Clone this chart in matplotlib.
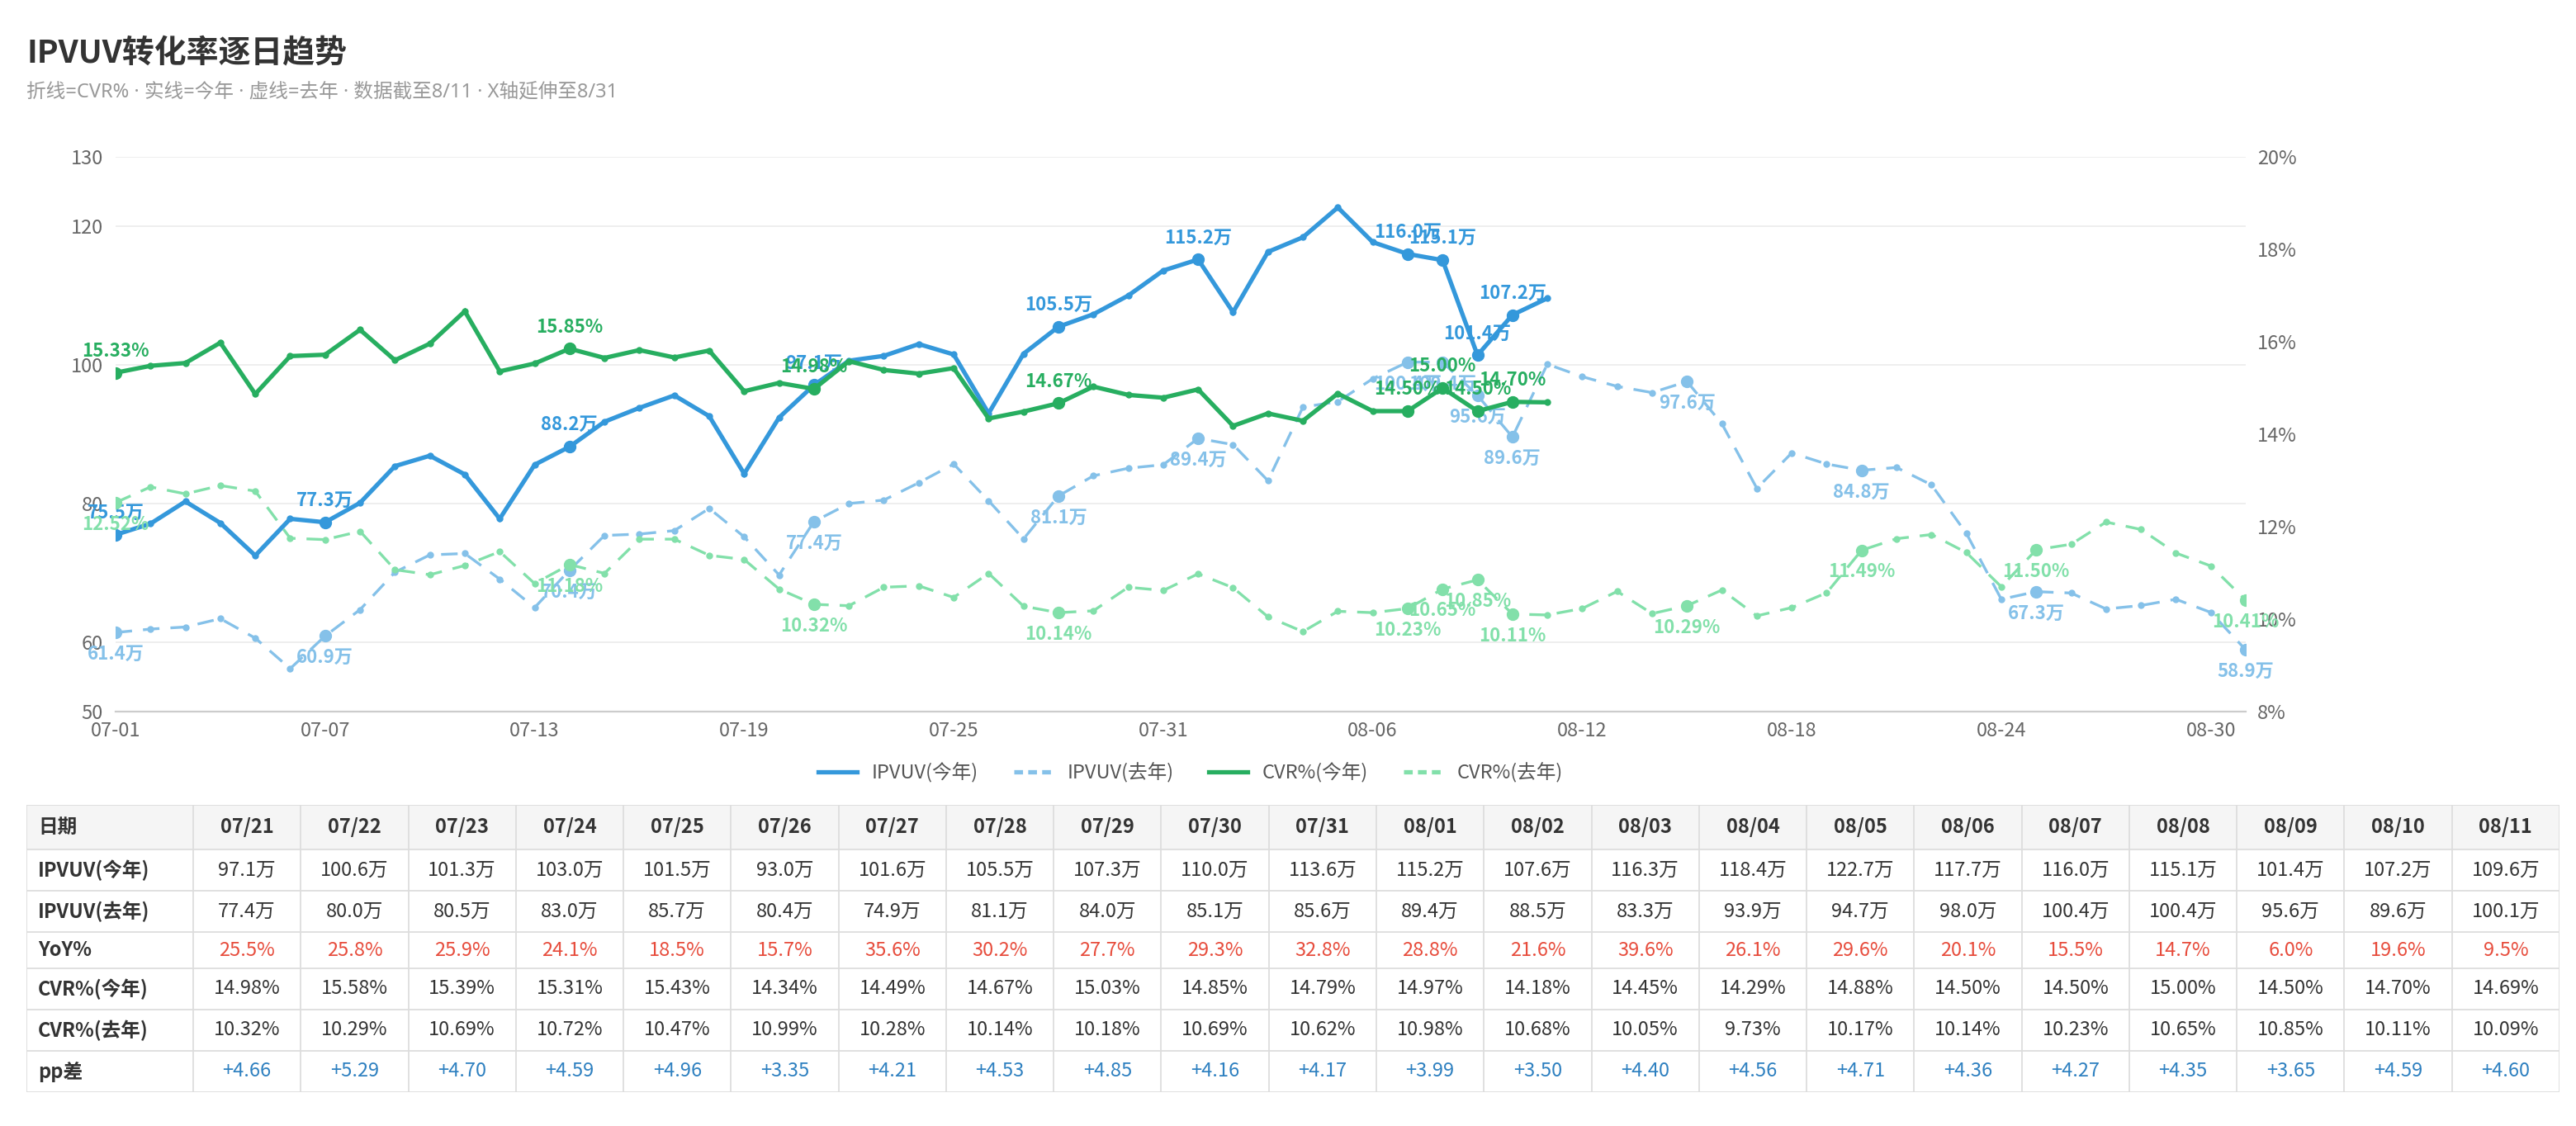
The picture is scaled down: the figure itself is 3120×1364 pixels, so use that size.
import numpy as np
import pandas as pd
import matplotlib
matplotlib.use('Agg')
import matplotlib.pyplot as plt
from matplotlib.lines import Line2D
from matplotlib.patches import Rectangle

plt.rcParams['font.family'] = ['Noto Sans CJK SC', 'DejaVu Sans']

# ---------------- data ----------------
dates = [d.strftime('%m-%d') for d in pd.date_range('2024-07-01', '2024-08-31')]   # 62 days

# 今年: 07-01 .. 08-11
ipvuv_cur = [75.5, 77.1, 80.3, 77.2, 72.5, 77.8, 77.3, 80.1, 85.4, 86.9,
             84.2, 77.8, 85.6, 88.2, 91.8, 93.8, 95.6, 92.6, 84.3, 92.4,
             97.1, 100.6, 101.3, 103.0, 101.5, 93.0, 101.6, 105.5, 107.3, 110.0,
             113.6, 115.2, 107.6, 116.3, 118.4, 122.7, 117.7, 116.0, 115.1, 101.4,
             107.2, 109.6]
cvr_cur = [15.33, 15.48, 15.54, 15.98, 14.87, 15.69, 15.72, 16.26, 15.60, 15.96,
           16.66, 15.36, 15.53, 15.85, 15.65, 15.82, 15.66, 15.81, 14.93, 15.11,
           14.98, 15.58, 15.39, 15.31, 15.43, 14.34, 14.49, 14.67, 15.03, 14.85,
           14.79, 14.97, 14.18, 14.45, 14.29, 14.88, 14.50, 14.50, 15.00, 14.50,
           14.70, 14.69]

# 去年: 07-01 .. 08-31
ipvuv_last = [61.4, 61.9, 62.2, 63.4, 60.6, 56.2, 60.9, 64.7, 70.1, 72.6,
              72.8, 69.1, 65.0, 70.4, 75.4, 75.6, 76.1, 79.3, 75.2, 69.7,
              77.4, 80.0, 80.5, 83.0, 85.7, 80.4, 74.9, 81.1, 84.0, 85.1,
              85.6, 89.4, 88.5, 83.3, 93.9, 94.7, 98.0, 100.4, 100.4, 95.6,
              89.6, 100.1,
              98.3, 96.9, 96.0, 97.6, 91.5, 82.2, 87.3, 85.7, 84.8, 85.2,
              82.7, 75.7, 66.2, 67.3, 67.1, 64.8, 65.3, 66.2, 64.3, 58.9]
cvr_last = [12.52, 12.86, 12.71, 12.89, 12.77, 11.75, 11.72, 11.90, 11.07, 10.96,
            11.16, 11.46, 10.77, 11.18, 10.99, 11.73, 11.73, 11.38, 11.29, 10.65,
            10.32, 10.29, 10.69, 10.72, 10.47, 10.99, 10.28, 10.14, 10.18, 10.69,
            10.62, 10.98, 10.68, 10.05, 9.73, 10.17, 10.14, 10.23, 10.65, 10.85,
            10.11, 10.09,
            10.23, 10.60, 10.12, 10.29, 10.63, 10.07, 10.25, 10.57, 11.49, 11.74,
            11.83, 11.44, 10.70, 11.50, 11.62, 12.10, 11.94, 11.43, 11.15, 10.41]

# points that carry a value label
lab_ipvuv_cur = [0, 6, 13, 20, 27, 31, 37, 38, 39, 40]
lab_cvr_cur = [0, 13, 20, 27, 37, 38, 39, 40]
lab_ipvuv_last = [0, 6, 13, 20, 27, 31, 37, 38, 39, 40, 45, 50, 55, 61]
lab_cvr_last = [0, 13, 20, 27, 37, 38, 39, 40, 45, 50, 55, 61]

# table (07/21 .. 08/11)
tab_start = 20
yoy = [25.5, 25.8, 25.9, 24.1, 18.5, 15.7, 35.6, 30.2, 27.7, 29.3, 32.8,
       28.8, 21.6, 39.6, 26.1, 29.6, 20.1, 15.5, 14.7, 6.0, 19.6, 9.5]
pp_diff = [4.66, 5.29, 4.70, 4.59, 4.96, 3.35, 4.21, 4.53, 4.85, 4.16, 4.17,
           3.99, 3.50, 4.40, 4.56, 4.71, 4.36, 4.27, 4.35, 3.65, 4.59, 4.60]

# ---------------- style ----------------
C_IP_CUR = '#3498db'
C_IP_LAST = '#85c1e9'
C_CVR_CUR = '#27ae60'
C_CVR_LAST = '#82e0aa'

W, H = 3120, 1364
fig = plt.figure(figsize=(W / 100, H / 100), dpi=100)

fig.text(32 / W, 1 - 64 / H, 'IPVUV转化率逐日趋势', fontsize=28, weight='bold',
         color='#333333', va='center')
fig.text(32 / W, 1 - 111 / H, '折线=CVR% · 实线=今年 · 虚线=去年 · 数据截至8/11 · X轴延伸至8/31',
         fontsize=17, color='#999999', va='center', family=['Noto Sans', 'Noto Sans CJK SC'])

ax = fig.add_axes([140 / W, 1 - 862 / H, 2580 / W, 672 / H])
ax2 = ax.twinx()

x_all = np.arange(len(dates))
x_cur = np.arange(len(ipvuv_cur))

solid_lw = 3.8
dash_lw = 2.4


def draw(axis, x, y, color, ls, lw, lab_idx, fmt, above):
    y = np.asarray(y)
    line, = axis.plot(x, y, color=color, lw=lw, ls=ls, marker='o', ms=5,
                      solid_joinstyle='miter', zorder=3)
    if ls == '--':
        line.set_dashes((6, 4))
    axis.plot(x[lab_idx], y[lab_idx], 'o', color=color, ms=10, zorder=4)
    for i in lab_idx:
        axis.annotate(fmt(y[i]), (x[i], y[i]), xytext=(0, 19 if above else -19),
                      textcoords='offset points', ha='center', va='center',
                      fontsize=16, weight='bold', color=color, zorder=5)


draw(ax, x_cur, ipvuv_cur, C_IP_CUR, '-', solid_lw, lab_ipvuv_cur, lambda v: f'{v:.1f}万', True)
draw(ax, x_all, ipvuv_last, C_IP_LAST, '--', dash_lw, lab_ipvuv_last, lambda v: f'{v:.1f}万', False)
draw(ax2, x_cur, cvr_cur, C_CVR_CUR, '-', solid_lw, lab_cvr_cur, lambda v: f'{v:.2f}%', True)
draw(ax2, x_all, cvr_last, C_CVR_LAST, '--', dash_lw, lab_cvr_last, lambda v: f'{v:.2f}%', False)

ax.set_xlim(0, len(dates) - 1)
ax.set_ylim(50, 130)
ax2.set_ylim(8, 20)
ax.set_yticks([50, 60, 80, 100, 120, 130])
ax2.set_yticks(np.arange(8, 21, 2))
ax2.set_yticklabels([f'{v}%' for v in range(8, 21, 2)])
ax.set_xticks(x_all[::6])
ax.set_xticklabels(dates[::6])

for a in (ax, ax2):
    for s in a.spines.values():
        s.set_visible(False)
    a.tick_params(length=0, labelsize=17, labelcolor='#666666')
ax.spines['bottom'].set_visible(True)
ax.spines['bottom'].set_color('#cccccc')
ax.spines['bottom'].set_linewidth(1.6)
ax.tick_params(axis='y', pad=11)
ax.tick_params(axis='x', pad=9)
ax2.tick_params(axis='y', pad=10)
for v in [60, 80, 100, 120, 130]:
    ax.axhline(v, color='#eeeeee', lw=1.4, zorder=0)

handles = [
    Line2D([0], [0], color=C_IP_CUR, lw=solid_lw),
    Line2D([0], [0], color=C_IP_LAST, lw=solid_lw, ls=(0, (2, 1.2))),
    Line2D([0], [0], color=C_CVR_CUR, lw=solid_lw),
    Line2D([0], [0], color=C_CVR_LAST, lw=solid_lw, ls=(0, (2, 1.2))),
]
fig.legend(handles, ['IPVUV(今年)', 'IPVUV(去年)', 'CVR%(今年)', 'CVR%(去年)'],
           loc='center', bbox_to_anchor=(1442 / W, 1 - 936 / H), ncol=4, frameon=False,
           fontsize=17, labelcolor='#555555', handlelength=2.0, handletextpad=0.75,
           columnspacing=1.8)

# ---------------- table ----------------
tab_w = 3068
row_h = [54, 50, 50, 44, 50, 50, 50]
tab_h = sum(row_h)
tab = fig.add_axes([32 / W, 1 - 1323 / H, tab_w / W, tab_h / H])
tab.set_xlim(0, tab_w)
tab.set_ylim(tab_h, 0)
tab.axis('off')

n_col = len(yoy)
first_w = 202
col_w = (tab_w - first_w) / n_col
col_x = [0] + [first_w + i * col_w for i in range(n_col + 1)]
row_y = np.concatenate([[0], np.cumsum(row_h)])

sl = slice(tab_start, tab_start + n_col)
rows = [
    ('日期', [dates[i].replace('-', '/') for i in range(tab_start, tab_start + n_col)], '#333333', 'bold'),
    ('IPVUV(今年)', [f'{v:.1f}万' for v in ipvuv_cur[sl]], '#333333', 'normal'),
    ('IPVUV(去年)', [f'{v:.1f}万' for v in ipvuv_last[sl]], '#333333', 'normal'),
    ('YoY%', [f'{v:.1f}%' for v in yoy], '#e74c3c', 'normal'),
    ('CVR%(今年)', [f'{v:.2f}%' for v in cvr_cur[sl]], '#333333', 'normal'),
    ('CVR%(去年)', [f'{v:.2f}%' for v in cvr_last[sl]], '#333333', 'normal'),
    ('pp差', [f'+{v:.2f}' for v in pp_diff], '#2e80c0', 'normal'),
]

tab.add_patch(Rectangle((0, 0), tab_w, row_h[0], facecolor='#f5f5f5', edgecolor='none', zorder=0))
for y in row_y:
    tab.plot([0, tab_w], [y, y], color='#dddddd', lw=1.3, zorder=1, solid_capstyle='butt')
for x in col_x:
    tab.plot([x, x], [0, tab_h], color='#dddddd', lw=1.3, zorder=1, solid_capstyle='butt')

for r, (name, vals, color, weight) in enumerate(rows):
    yc = (row_y[r] + row_y[r + 1]) / 2
    tab.text(14, yc, name, ha='left', va='center', fontsize=17, weight='bold', color='#333333')
    for c, s in enumerate(vals):
        xc = first_w + (c + 0.5) * col_w
        tab.text(xc, yc, s, ha='center', va='center', fontsize=17, weight=weight, color=color)

fig.savefig('out.png', dpi=100)
